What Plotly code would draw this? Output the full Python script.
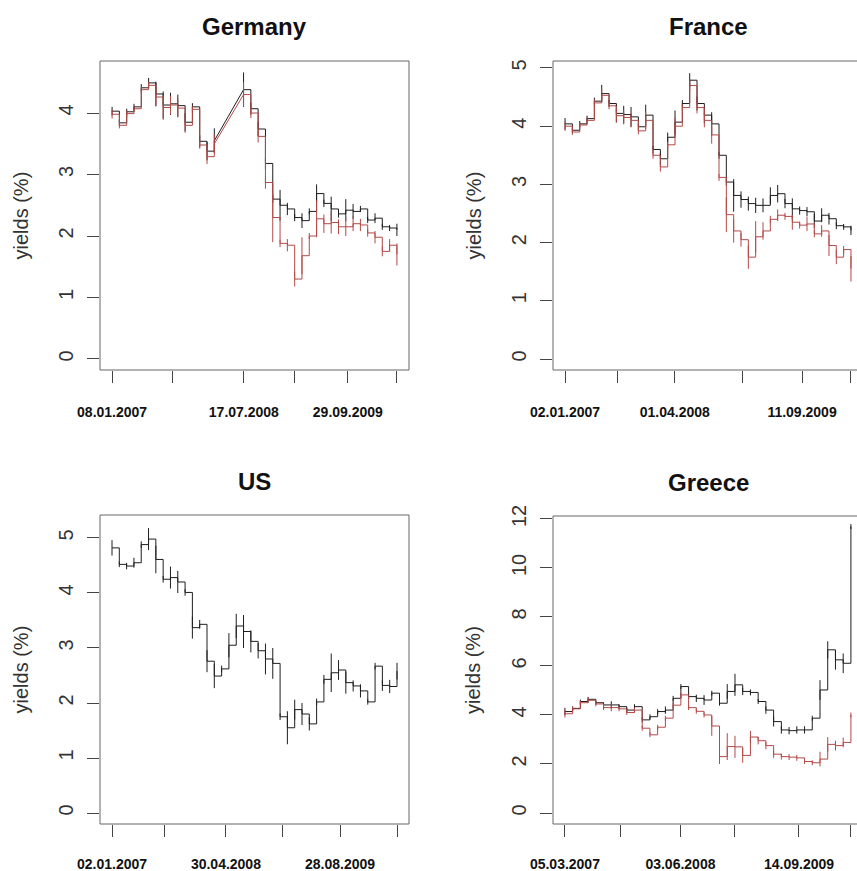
import pandas as pd
import plotly.graph_objects as go

# ---------------- data ----------------
N = None
# Germany (monthly, 08.01.2007 .. 2010-04)
de_start, de_end = "2007-01-08", "2010-04-24"
de_black = [4.03, 3.84, 4.02, 4.10, 4.41, 4.49, 4.31, 4.13, 4.15, 4.12,
            3.85, 4.10, 3.54, 3.38, 3.55, N, N, N, 4.38, 4.07,
            3.74, 3.18, 2.60, 2.50, 2.44, 2.30, 2.25, 2.40, 2.69, 2.53,
            2.44, 2.36, 2.42, 2.40, 2.44, 2.26, 2.29, 2.15, 2.13, 2.10]
de_red = [3.98, 3.80, 3.99, 4.07, 4.38, 4.45, 4.26, 4.09, 4.13, 4.08,
          3.80, 4.06, 3.48, 3.29, 3.50, N, N, N, 4.30, 4.00,
          3.62, 2.87, 2.30, 1.88, 1.85, 1.30, 1.68, 2.00, 2.28, 2.20,
          2.22, 2.15, 2.15, 2.20, 2.18, 2.05, 1.98, 1.75, 1.85, 1.70]
de_black_sp = [0.07, 0.05, 0.05, 0.05, 0.06, 0.08, 0.20, 0.22, 0.18, 0.18,
               0.15, 0.06, 0.10, 0.15, 0.20, 0, 0, 0, 0.28, 0.10,
               0.12, 0.10, 0.06, 0.25, 0.10, 0.06, 0.12, 0.05, 0.15, 0.06,
               0.20, 0.06, 0.18, 0.12, 0.05, 0.05, 0.08, 0.05, 0.05, 0.10]
de_red_sp = [0.07, 0.05, 0.05, 0.05, 0.05, 0.06, 0.15, 0.20, 0.15, 0.15,
             0.12, 0.05, 0.06, 0.12, 0.15, 0, 0, 0, 0.20, 0.08,
             0.10, 0.10, 0.40, 0.06, 0.10, 0.12, 0.30, 0.05, 0.30, 0.15,
             0.18, 0.12, 0.15, 0.12, 0.10, 0.06, 0.10, 0.08, 0.10, 0.18]
de_tick_dates = ["2007-01-08", "2007-09-18", "2008-07-17", "2009-02-17", "2009-09-29", "2010-04-24"]
de_tick_text = ["08.01.2007", "", "17.07.2008", "", "29.09.2009", ""]

# France
fr_start, fr_end = "2007-01-02", "2010-04-02"
fr_black = [4.04, 3.93, 4.04, 4.13, 4.43, 4.56, 4.39, 4.22, 4.20, 4.16,
            3.99, 4.19, 3.60, 3.44, 3.81, 4.07, 4.39, 4.79, 4.39, 4.19,
            4.04, 3.50, 3.04, 2.81, 2.74, 2.67, 2.64, 2.64, 2.81, 2.84,
            2.67, 2.58, 2.55, 2.53, 2.37, 2.47, 2.41, 2.29, 2.27, 2.21]
fr_red = [4.00, 3.90, 4.02, 4.10, 4.40, 4.53, 4.35, 4.18, 4.15, 4.10,
          3.92, 4.10, 3.50, 3.30, 3.68, 4.00, 4.32, 4.70, 4.32, 4.10,
          3.85, 3.12, 2.48, 2.20, 2.05, 1.75, 2.10, 2.20, 2.40, 2.47,
          2.45, 2.35, 2.30, 2.32, 2.15, 2.20, 1.95, 1.75, 1.88, 1.55]
fr_black_sp = [0.10, 0.05, 0.05, 0.05, 0.06, 0.15, 0.06, 0.15, 0.15, 0.17,
               0.06, 0.18, 0.06, 0.10, 0.08, 0.20, 0.06, 0.12, 0.12, 0.14,
               0.20, 0.06, 0.06, 0.28, 0.14, 0.12, 0.13, 0.12, 0.14, 0.15,
               0.08, 0.18, 0.07, 0.08, 0.12, 0.12, 0.10, 0.06, 0.05, 0.08]
fr_red_sp = [0.08, 0.05, 0.05, 0.05, 0.06, 0.10, 0.06, 0.12, 0.12, 0.12,
             0.06, 0.15, 0.06, 0.08, 0.06, 0.15, 0.06, 0.10, 0.10, 0.12,
             0.15, 0.06, 0.30, 0.20, 0.12, 0.20, 0.27, 0.15, 0.06, 0.10,
             0.06, 0.13, 0.06, 0.12, 0.06, 0.10, 0.18, 0.12, 0.06, 0.22]
fr_tick_dates = ["2007-01-02", "2007-08-09", "2008-04-01", "2009-01-05", "2009-09-11", "2010-04-02"]
fr_tick_text = ["02.01.2007", "", "01.04.2008", "", "11.09.2009", ""]

# US
us_start, us_end = "2007-01-02", "2010-04-27"
us_black = [4.82, 4.52, 4.49, 4.55, 4.88, 4.98, 4.61, 4.25, 4.28, 4.20,
            4.01, 3.37, 3.43, 2.76, 2.49, 2.62, 3.05, 3.40, 3.30, 3.12,
            2.95, 2.80, 2.72, 1.75, 1.55, 1.88, 1.80, 1.62, 2.02, 2.43,
            2.55, 2.60, 2.37, 2.31, 2.22, 2.02, 2.67, 2.32, 2.30, 2.58]
us_black_sp = [0.14, 0.05, 0.06, 0.09, 0.06, 0.20, 0.25, 0.06, 0.20, 0.20,
               0.06, 0.20, 0.08, 0.20, 0.22, 0.06, 0.22, 0.22, 0.30, 0.20,
               0.14, 0.28, 0.28, 0.06, 0.30, 0.18, 0.20, 0.12, 0.06, 0.08,
               0.35, 0.18, 0.20, 0.10, 0.12, 0.05, 0.06, 0.10, 0.12, 0.15]
us_tick_dates = ["2007-01-02", "2007-08-15", "2008-04-30", "2008-12-28", "2009-08-28", "2010-04-27"]
us_tick_text = ["02.01.2007", "", "30.04.2008", "", "28.08.2009", ""]

# Greece
gr_start, gr_end = "2007-03-05", "2010-04-07"
gr_black = [4.14, 4.27, 4.55, 4.64, 4.50, 4.41, 4.41, 4.34, 4.20, 4.34,
            3.80, 3.93, 4.14, 4.20, 4.68, 5.16, 4.75, 4.68, 4.61, 4.89,
            4.48, 4.96, 5.23, 4.96, 4.92, 4.55, 4.20, 3.73, 3.39, 3.36,
            3.39, 3.39, 3.87, 5.02, 6.66, 6.25, 6.11, 11.69]
gr_red = [4.05, 4.25, 4.50, 4.60, 4.45, 4.30, 4.30, 4.25, 4.10, 4.20,
          3.46, 3.19, 3.50, 3.87, 4.40, 4.82, 4.30, 4.15, 4.00, 3.55,
          2.30, 2.71, 2.70, 2.35, 3.10, 2.95, 2.75, 2.40, 2.30, 2.28,
          2.25, 2.10, 2.05, 2.20, 2.80, 2.75, 2.88, 4.00]
gr_black_sp = [0.15, 0.08, 0.08, 0.10, 0.08, 0.10, 0.15, 0.10, 0.10, 0.10,
               0.10, 0.10, 0.10, 0.15, 0.10, 0.10, 0.10, 0.15, 0.20, 0.10,
               0.10, 0.30, 0.45, 0.15, 0.12, 0.10, 0.15, 0.20, 0.15, 0.15,
               0.15, 0.15, 0.10, 0.40, 0.35, 0.40, 0.40, 0.10]
gr_red_sp = [0.15, 0.08, 0.08, 0.10, 0.10, 0.10, 0.15, 0.10, 0.10, 0.10,
             0.10, 0.10, 0.10, 0.10, 0.10, 0.10, 0.10, 0.10, 0.10, 0.40,
             0.30, 0.55, 0.45, 0.30, 0.25, 0.15, 0.15, 0.15, 0.12, 0.12,
             0.12, 0.10, 0.10, 0.30, 0.30, 0.20, 0.20, 0.10]
gr_tick_dates = ["2007-03-05", "2007-10-12", "2008-06-03", "2009-01-04", "2009-09-14", "2010-04-07"]
gr_tick_text = ["05.03.2007", "", "03.06.2008", "", "14.09.2009", ""]

titles = ["Germany", "France", "US", "Greece"]
y_label = "yields (%)"

# ---------------- styling ----------------
W, H = 857, 871
BLACK = "#1e1e1e"
RED = "#b24a48"
FONT = "Liberation Sans, Arial, sans-serif"

# panel boxes in pixels: (left, right, top, bottom)
boxes = [(100, 409, 61, 370), (553, 863, 61, 370), (100, 409, 515, 824), (553, 863, 516, 824)]
xranges = [["2006-11-18", "2010-06-14"], ["2006-11-13", "2010-04-27"],
           ["2006-11-12", "2010-06-17"], ["2007-01-17", "2010-05-01"]]
yranges = [[-0.179, 4.846], [-0.189, 5.12], [-0.2, 5.418], [-0.449, 12.12]]
ytickvals = [[0, 1, 2, 3, 4], [0, 1, 2, 3, 4, 5], [0, 1, 2, 3, 4, 5], [0, 2, 4, 6, 8, 10, 12]]
xstandoff = [17, 17, 15, 15]

panels = [
    dict(start=de_start, end=de_end, series=[(de_black, de_black_sp, BLACK), (de_red, de_red_sp, RED)],
         ticks=(de_tick_dates, de_tick_text)),
    dict(start=fr_start, end=fr_end, series=[(fr_black, fr_black_sp, BLACK), (fr_red, fr_red_sp, RED)],
         ticks=(fr_tick_dates, fr_tick_text)),
    dict(start=us_start, end=us_end, series=[(us_black, us_black_sp, BLACK)],
         ticks=(us_tick_dates, us_tick_text)),
    dict(start=gr_start, end=gr_end, series=[(gr_black, gr_black_sp, BLACK), (gr_red, gr_red_sp, RED)],
         ticks=(gr_tick_dates, gr_tick_text)),
]

fig = go.Figure()
shapes, annotations = [], []

for k, p in enumerate(panels):
    xa = "x" if k == 0 else f"x{k+1}"
    ya = "y" if k == 0 else f"y{k+1}"
    n = len(p["series"][0][0])
    dates = pd.date_range(p["start"], p["end"], periods=n)
    for vals, sp, col in p["series"]:
        fig.add_trace(go.Scatter(
            x=dates, y=vals, mode="lines", line=dict(color=col, width=1, shape="hv"),
            connectgaps=False, xaxis=xa, yaxis=ya, showlegend=False, hoverinfo="skip",
            error_y=dict(type="data", array=sp, symmetric=True, thickness=1, width=0, color=col)))
        # linear bridge across missing observations
        valid = [i for i, v in enumerate(vals) if v is not None]
        for a, b in zip(valid[:-1], valid[1:]):
            if b - a > 1:
                fig.add_trace(go.Scatter(
                    x=[dates[a], dates[b]], y=[vals[a], vals[b]], mode="lines",
                    line=dict(color=col, width=1), xaxis=xa, yaxis=ya,
                    showlegend=False, hoverinfo="skip"))

    l, r, t, b = boxes[k]
    dx = [l / W, min(r, W) / W]
    dy = [1 - b / H, 1 - t / H]
    tv, tt = p["ticks"]
    fig.layout[("xaxis" if k == 0 else f"xaxis{k+1}")] = dict(
        domain=dx, anchor=ya, type="date", range=xranges[k], automargin=False,
        tickmode="array", tickvals=tv, ticktext=tt,
        ticks="outside", ticklen=12, tickcolor="#444", tickwidth=1,
        ticklabelstandoff=xstandoff[k],
        tickfont=dict(family=FONT, size=14, color="#111", weight="bold"),
        showgrid=False, zeroline=False, showline=False, fixedrange=True)
    fig.layout[("yaxis" if k == 0 else f"yaxis{k+1}")] = dict(
        domain=dy, anchor=xa, range=yranges[k], automargin=False,
        tickmode="array", tickvals=ytickvals[k], ticktext=[str(v) for v in ytickvals[k]],
        ticks="outside", ticklen=12, tickcolor="#444", tickwidth=1,
        tickangle=-90, ticklabelstandoff=6,
        tickfont=dict(family=FONT, size=20, color="#333"),
        showgrid=False, zeroline=False, showline=False, fixedrange=True)

    x1 = (r - l) / (min(r, W) - l)
    shapes.append(dict(type="rect", xref=f"{xa} domain", yref=f"{ya} domain",
                       x0=0, x1=x1, y0=0, y1=1, line=dict(color="#666", width=1)))
    annotations.append(dict(text=f"<b>{titles[k]}</b>", xref="paper", yref="paper",
                            x=(l + r) / 2 / W, y=1 - (t - 34) / H, xanchor="center", yanchor="middle",
                            showarrow=False, font=dict(family=FONT, size=24, color="#111")))
    annotations.append(dict(text=y_label, xref="paper", yref="paper",
                            x=(l - 80) / W, y=1 - ((t + b) / 2) / H, textangle=-90,
                            xanchor="center", yanchor="middle", showarrow=False,
                            font=dict(family=FONT, size=20, color="#333")))

fig.update_layout(width=W, height=H, margin=dict(l=0, r=0, t=0, b=0, autoexpand=False),
                  paper_bgcolor="white", plot_bgcolor="white",
                  shapes=shapes, annotations=annotations)

fig.write_html("out.html", config={"displayModeBar": False},
               post_script="document.body.style.margin='0';document.body.style.overflow='hidden';")
